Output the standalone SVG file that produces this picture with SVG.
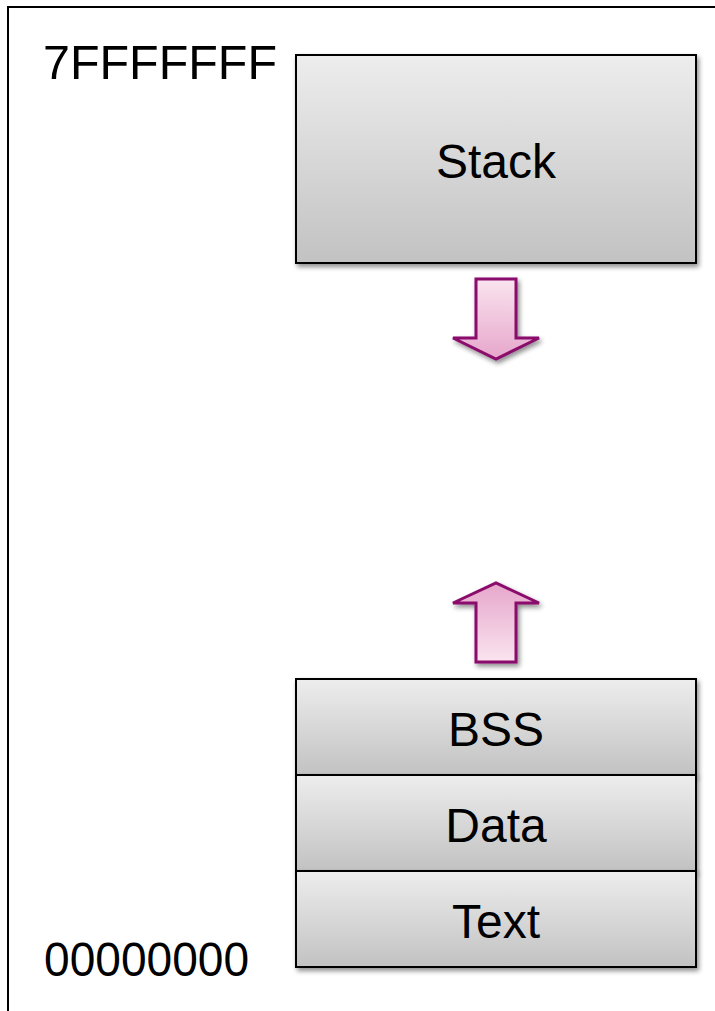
<svg xmlns="http://www.w3.org/2000/svg" width="715" height="1011" viewBox="0 0 715 1011">
  <style>
    .label { font-family: "Liberation Sans", Arial, sans-serif; font-size: 48px; fill: #000; }
    .mid { text-anchor: middle; }
    .seg { fill: url(#segFill); stroke: #000; stroke-width: 2; filter: url(#shadow); }
    .arrow { stroke: #8A0A6C; stroke-width: 3; stroke-linejoin: miter; filter: url(#shadow); }
  </style>
  <defs>
    <linearGradient id="segFill" x1="0" y1="0" x2="0" y2="1">
      <stop offset="0" stop-color="#EDEDED"/>
      <stop offset="1" stop-color="#C2C2C2"/>
    </linearGradient>
    <linearGradient id="pinkDown" x1="0" y1="0" x2="0" y2="1">
      <stop offset="0" stop-color="#FAE4EF"/>
      <stop offset="1" stop-color="#E6A6CB"/>
    </linearGradient>
    <linearGradient id="pinkUp" x1="0" y1="1" x2="0" y2="0">
      <stop offset="0" stop-color="#FAE4EF"/>
      <stop offset="1" stop-color="#E6A6CB"/>
    </linearGradient>
    <filter id="shadow" x="-10%" y="-10%" width="125%" height="125%">
      <feGaussianBlur in="SourceAlpha" stdDeviation="2.5"/>
      <feOffset dx="2" dy="3" result="blur"/>
      <feComponentTransfer><feFuncA type="linear" slope="0.45"/></feComponentTransfer>
      <feMerge><feMergeNode/><feMergeNode in="SourceGraphic"/></feMerge>
    </filter>
  </defs>

  <rect width="715" height="1011" fill="#FFFFFF"/>

  <!-- outer frame, open to the right and bottom edges -->
  <rect id="frame" x="8" y="7" width="740" height="1040" fill="none" stroke="#000" stroke-width="2"/>

  <!-- address labels -->
  <text class="label" x="43" y="79" textLength="234" lengthAdjust="spacingAndGlyphs">7FFFFFFF</text>
  <text class="label" x="44" y="976" textLength="205" lengthAdjust="spacingAndGlyphs">00000000</text>

  <g id="stack">
    <rect class="seg" x="296" y="55" width="400" height="208"/>
    <text class="label mid" x="496" y="178">Stack</text>
  </g>

  <g id="bss">
    <rect class="seg" x="296" y="679" width="400" height="96"/>
    <text class="label mid" x="496" y="746">BSS</text>
  </g>
  <g id="data">
    <rect class="seg" x="296" y="775" width="400" height="96"/>
    <text class="label mid" x="496" y="842">Data</text>
  </g>
  <g id="text">
    <rect class="seg" x="296" y="871" width="400" height="96"/>
    <text class="label mid" x="496" y="938">Text</text>
  </g>

  <g id="connectors">
    <!-- stack grows downward -->
    <path class="arrow" fill="url(#pinkDown)" d="M476,279 H516 V338 H539 L496,359 L453,338 H476 Z"/>
    <!-- heap grows upward -->
    <path class="arrow" fill="url(#pinkUp)" d="M476,662 H516 V603 H539 L496,583 L453,603 H476 Z"/>
  </g>
</svg>
